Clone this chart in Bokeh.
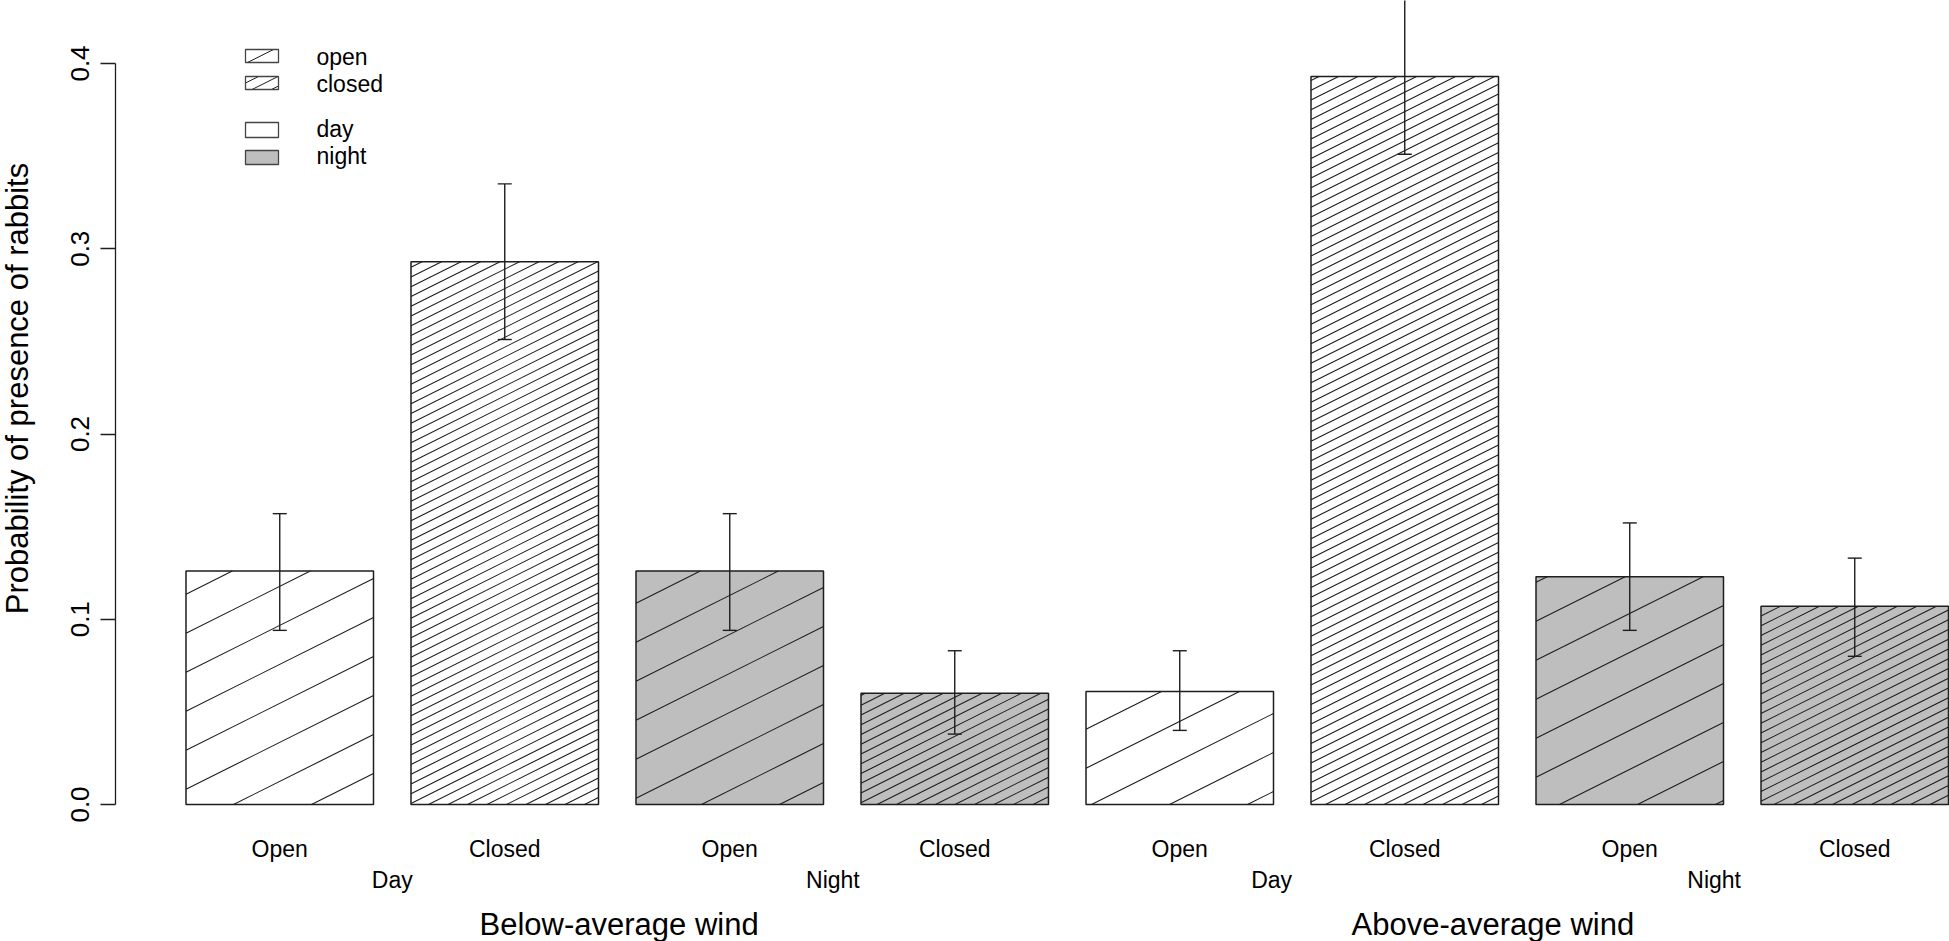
import math
from bokeh.plotting import figure
from bokeh.models import Range1d, FixedTicker, PrintfTickFormatter
from bokeh.core.properties import value
from bokeh.embed import file_html
from bokeh.resources import INLINE

# ---------------- data ----------------
wind_groups = ["Below-average wind", "Above-average wind"]
time_of_day = ["Day", "Night"]
cover_types = ["Open", "Closed"]
# order: wind -> time -> cover
prob = [0.126, 0.293, 0.126, 0.060, 0.061, 0.393, 0.123, 0.107]
err_low = [0.094, 0.251, 0.094, 0.038, 0.040, 0.351, 0.094, 0.080]
err_high = [0.157, 0.335, 0.157, 0.083, 0.083, 0.435, 0.152, 0.133]
y_ticks = [0.0, 0.1, 0.2, 0.3, 0.4]
legend_cover = ["open", "closed"]
legend_time = ["day", "night"]
y_title = "Probability of presence of rabbits"

# ---------------- layout ----------------
FONT = value("Liberation Sans")
INK = "#1e1e1e"
NIGHT = "#bebebe"
W, H = 1949, 941
LEFT = 115                 # page x of the y axis
SX = 187.5                 # px per x unit
SY = 1852.5                # px per y unit
ZERO_PAGE_Y = 804          # page y of value 0
X0_AXIS = -0.176           # R barplot xlim start (axis position)
TEXT_FIX = 9               # svg text baseline correction (px)
x_start = X0_AXIS - LEFT / SX
x_end = x_start + W / SX
y_end = ZERO_PAGE_Y / SY
y_start = y_end - H / SY


def dx(page_x):
    return X0_AXIS + (page_x - LEFT) / SX


def dy(page_y):
    return (ZERO_PAGE_Y - page_y) / SY


def ty(page_y):
    return dy(page_y - TEXT_FIX)


n = len(prob)
centers = [0.7 + 1.2 * i for i in range(n)]
bar_cover = [cover_types[i % 2] for i in range(n)]
bar_time = [time_of_day[(i // 2) % 2] for i in range(n)]
fills = ["white" if t == "Day" else NIGHT for t in bar_time]
spacing = {"Open": 78.0, "Closed": 19.5}
SLOPE = 0.5


def hatch(x0, x1, y0, y1, step, anchor=0.0):
    X0, X1 = (x0 - X0_AXIS) * SX, (x1 - X0_AXIS) * SX
    Y0, Y1 = y0 * SY, y1 * SY
    kmin = math.floor((X0 - Y1 / SLOPE - anchor) / step) - 1
    kmax = math.ceil((X1 - Y0 / SLOPE - anchor) / step) + 1
    segs = []
    for k in range(kmin, kmax + 1):
        a = anchor + k * step
        xs = max(X0, a + Y0 / SLOPE)
        xe = min(X1, a + Y1 / SLOPE)
        if xe - xs > 0.8:
            segs.append((X0_AXIS + xs / SX, SLOPE * (xs - a) / SY,
                         X0_AXIS + xe / SX, SLOPE * (xe - a) / SY))
    return segs


p = figure(width=W, height=H, x_range=Range1d(x_start, x_end),
           y_range=Range1d(y_start, y_end), output_backend="svg",
           toolbar_location=None, x_axis_location=None,
           min_border_left=0, min_border_right=0, min_border_top=0,
           min_border_bottom=0)
p.outline_line_color = None
p.xgrid.visible = False
p.ygrid.visible = False
p.background_fill_color = "white"
p.border_fill_color = "white"

ax = p.yaxis[0]
ax.fixed_location = X0_AXIS
ax.ticker = FixedTicker(ticks=y_ticks)
ax.bounds = (min(y_ticks), max(y_ticks))
ax.formatter = PrintfTickFormatter(format="%.1f")
ax.major_label_orientation = "vertical"
ax.major_tick_out = 15
ax.major_tick_in = 0
ax.minor_tick_line_color = None
ax.axis_line_color = INK
ax.axis_line_width = 1.3
ax.major_tick_line_color = INK
ax.major_tick_line_width = 1.3
ax.major_label_standoff = 12
ax.major_label_text_font = "Liberation Sans"
ax.major_label_text_font_size = "26px"
ax.major_label_text_color = "black"

# y title (rotated text, reads bottom to top)
p.text(x=[dx(26 - TEXT_FIX)], y=[dy(388)], text=[y_title], angle=math.pi / 2,
       text_align="center", text_baseline="alphabetic", text_font=FONT,
       text_font_size=value("31px"), text_color="black")

# bars
lefts = [c - 0.5 for c in centers]
rights = [c + 0.5 for c in centers]
p.quad(left=lefts, right=rights, bottom=0, top=prob, fill_color=fills,
       line_color=None)
hx0, hy0, hx1, hy1 = [], [], [], []
for i in range(n):
    for s in hatch(lefts[i], rights[i], 0.0, prob[i], spacing[bar_cover[i]], anchor=40):
        hx0.append(s[0]); hy0.append(s[1]); hx1.append(s[2]); hy1.append(s[3])
p.segment(x0=hx0, y0=hy0, x1=hx1, y1=hy1, line_color=INK, line_width=1.1)
p.quad(left=lefts, right=rights, bottom=0, top=prob, fill_color=None,
       line_color=INK, line_width=1.5)

# error bars
cap = 14.0 / SX / 2
p.segment(x0=centers, y0=err_low, x1=centers, y1=err_high, line_color=INK, line_width=1.4)
p.segment(x0=[c - cap for c in centers], y0=err_low, x1=[c + cap for c in centers], y1=err_low,
          line_color=INK, line_width=1.4)
p.segment(x0=[c - cap for c in centers], y0=err_high, x1=[c + cap for c in centers], y1=err_high,
          line_color=INK, line_width=1.4)

# category labels
p.text(x=centers, y=[ty(857.5)] * n, text=bar_cover, text_align="center",
       text_baseline="alphabetic", text_font=FONT, text_font_size=value("23px"),
       text_color="black")
time_label_x = [1.30, 3.65, 5.99, 8.35]
time_labels = [time_of_day[j % 2] for j in range(4)]
p.text(x=time_label_x, y=[ty(888.5)] * 4, text=time_labels, text_align="center",
       text_baseline="alphabetic", text_font=FONT, text_font_size=value("23px"),
       text_color="black")
wind_label_x = [2.51, 7.17]
p.text(x=wind_label_x, y=[ty(933)] * 2, text=wind_groups, text_align="center",
       text_baseline="alphabetic", text_font=FONT, text_font_size=value("31px"),
       text_color="black")

# legend
box_l, box_r = dx(245), dx(278)
box_rows = [(49, 62), (76, 89), (122, 137), (150, 164)]
leg_fill = ["white", "white", "white", NIGHT]
leg_top = [dy(r[0]) for r in box_rows]
leg_bot = [dy(r[1]) for r in box_rows]
p.quad(left=box_l, right=box_r, bottom=leg_bot, top=leg_top, fill_color=leg_fill,
       line_color=None)
lx0, ly0, lx1, ly1 = [], [], [], []
for j, name in enumerate(cover_types):
    for s in hatch(box_l, box_r, leg_bot[j], leg_top[j], spacing[name], anchor=52):
        lx0.append(s[0]); ly0.append(s[1]); lx1.append(s[2]); ly1.append(s[3])
p.segment(x0=lx0, y0=ly0, x1=lx1, y1=ly1, line_color=INK, line_width=1.0)
p.quad(left=box_l, right=box_r, bottom=leg_bot, top=leg_top, fill_color=None,
       line_color="#444444", line_width=1.3)
leg_text = legend_cover + legend_time
leg_base = [ty(65), ty(92), ty(137.5), ty(164.5)]
p.text(x=[dx(316)] * 4, y=leg_base, text=leg_text, text_align="left",
       text_baseline="alphabetic", text_font=FONT, text_font_size=value("23px"),
       text_color="black")

open("out.html", "w").write(file_html(p, INLINE))
